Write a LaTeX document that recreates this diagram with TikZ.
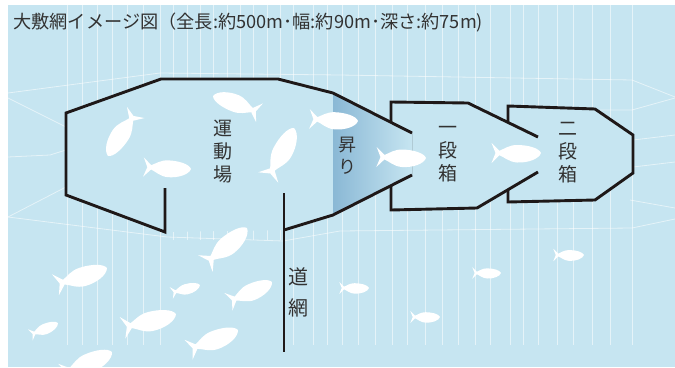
\documentclass[tikz,border=0pt]{standalone}
\usepackage{fontspec}
\newfontfamily\jpfont{Noto Sans CJK JP}
\definecolor{sea}{RGB}{198,229,241}
\definecolor{funneldark}{RGB}{138,184,213}
\definecolor{netblack}{RGB}{30,24,24}
\definecolor{labelgray}{RGB}{50,50,50}

% white fish silhouette from tail point (#1,#2) to head point (#3,#4)
\newcommand\drawfish[4]{%
  \pgfmathsetmacro\fishang{atan2((#2)-(#4),(#3)-(#1))}%
  \pgfmathsetmacro\fishlen{veclen((#3)-(#1),(#4)-(#2))}%
  \fill[fishbody, shift={(#1,#2)}, rotate=\fishang, scale=\fishlen]
    (1,0) .. controls (0.96,0.12) and (0.74,0.20) .. (0.52,0.19)
    .. controls (0.36,0.18) and (0.26,0.08) .. (0.17,0.045)
    -- (0.01,0.20) -- (0.09,0) -- (0.01,-0.20) -- (0.17,-0.045)
    .. controls (0.26,-0.08) and (0.36,-0.16) .. (0.52,-0.16)
    .. controls (0.74,-0.16) and (0.96,-0.10) .. (1,0) -- cycle;}

\begin{document}
\begin{tikzpicture}[x=1pt,y=-1pt,
  netline/.style={draw=netblack, line width=2.9pt, line join=miter},
  gridline/.style={draw=white, line width=0.8pt, opacity=0.55},
  fishbody/.style={fill=white},
  jplabel/.style={font=\jpfont\fontsize{19}{23}\selectfont, text=labelgray,
    align=center, inner sep=0pt}]
\useasboundingbox (0,0) rectangle (675,367);
\fill[white] (0,0) rectangle (675,367);
\fill[sea] (8,5) rectangle (675,367);

\begin{scope}
\clip (8,5) rectangle (675,367);
% background net: vertical ropes
\foreach \gx in {67,82,97,112,127,143,160,293,313,327,342,358,375,392,407,425,442,458,475,490,510,523,538,557,573,592,610,632}
  \draw[gridline] (\gx,5) -- (\gx,345);
\foreach \gx in {173,187,200,213,227,240,253,267,280}
  \draw[gridline] (\gx,5) -- (\gx,240);
% background net: side ropes
\draw[gridline] (8,93) -- (160,73) -- (340,75) -- (632,80) -- (675,97);
\draw[gridline] (600,110) -- (632,110) -- (675,98);
\draw[gridline] (8,98) -- (66,127);
\draw[gridline] (8,157) -- (50,155) -- (66,150);
\draw[gridline] (8,217) -- (66,187);
\draw[gridline] (8,217) -- (167,237) -- (283,241) -- (340,231) -- (632,228) -- (675,219);
\draw[gridline] (633,140) -- (675,135);
\draw[gridline] (633,167) -- (675,162);
\draw[gridline] (630,200) -- (675,208);

% interiors of the enclosures
\fill[sea] (165,232) -- (66,195) -- (66,113) -- (161,79) -- (278,79) -- (333,93)
  -- (412,133) -- (412,175) -- (333,215) -- (284,230) -- cycle;
\fill[sea] (391,102) -- (468,103) -- (538,137) -- (538,172) -- (477,208) -- (391,210) -- cycle;
\fill[sea] (508,106) -- (595,109) -- (633,135) -- (633,173) -- (595,200) -- (508,202) -- cycle;
% the rising funnel
\fill[left color=funneldark, right color=sea] (333,93) -- (412,133) -- (412,175) -- (333,215) -- cycle;

% fish
\drawfish{136}{112}{108}{156}
\drawfish{143}{167}{191}{169}
\drawfish{260}{113}{213}{96}
\drawfish{309}{119}{358}{121}
\drawfish{268}{178}{294}{128}
\drawfish{376}{157}{426}{158}
\drawfish{491}{153}{541}{153}
\drawfish{205}{264}{247}{228}
\drawfish{55}{285}{107}{268}
\drawfish{171}{293}{200}{285}
\drawfish{228}{302}{272}{282}
\drawfish{122}{328}{176}{314}
\drawfish{30}{335}{58}{323}
\drawfish{188}{350}{238}{330}
\drawfish{62}{374}{112}{352}
\drawfish{339}{288}{369}{288}
\drawfish{410}{317}{440}{317}
\drawfish{472}{273}{501}{273}
\drawfish{553}{255}{584}{255}
\end{scope}

% the net: playground, funnel, first and second boxes, leader net
\draw[netline] (165,188) -- (165,232) -- (66,195) -- (66,113) -- (161,79) -- (278,79)
  -- (333,93) -- (412,133);
\draw[netline] (412,175) -- (333,215) -- (284,230);
\draw[netline] (284,193) -- (284,352);
\draw[netline] (391,122) -- (391,102) -- (468,103) -- (538,137);
\draw[netline] (391,186) -- (391,210) -- (477,208) -- (538,172);
\draw[netline] (508,122) -- (508,106) -- (595,109) -- (633,135) -- (633,173)
  -- (595,200) -- (508,202) -- (508,190);

% labels
\node[anchor=west, font=\jpfont\fontsize{18.2}{20}\selectfont, text=labelgray, inner sep=0pt]
  (title) at (13,22) {大敷網イメージ図（全長:約500m･幅:約90m･深さ:約75m)};
\node[jplabel] (playground) at (223,152) {運\\動\\場};
\node[jplabel, font=\jpfont\fontsize{18}{22}\selectfont] (rise) at (347,156) {昇\\り};
\node[jplabel] (firstbox) at (448,154) {一\\段\\箱};
\node[jplabel] (secondbox) at (568,153) {二\\段\\箱};
\node[jplabel, font=\jpfont\fontsize{20}{31}\selectfont] (leader) at (298,292) {道\\網};
\end{tikzpicture}
\end{document}
